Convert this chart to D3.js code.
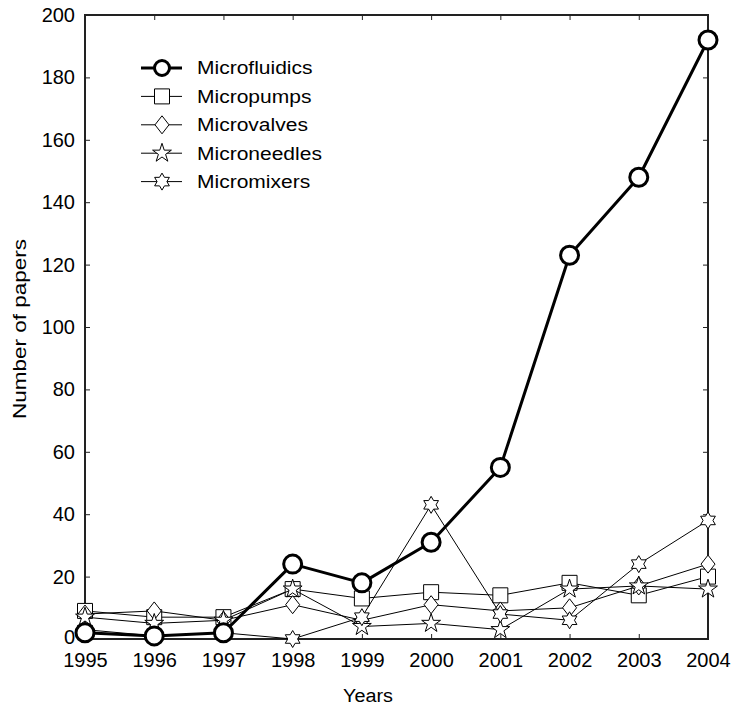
<!DOCTYPE html>
<html>
<head>
<meta charset="utf-8">
<script src="https://cdn.jsdelivr.net/npm/d3@7"></script>
<style>
  html, body { margin: 0; padding: 0; background: #fff; }
  svg text { font-family: "Liberation Sans", Arial, sans-serif; fill: #000; }
</style>
</head>
<body>
<svg id="chart" width="731" height="709"></svg>
<script>
// Publication counts per year
const years = [1995, 1996, 1997, 1998, 1999, 2000, 2001, 2002, 2003, 2004];
const microfluidics = [2, 1, 2, 24, 18, 31, 55, 123, 148, 192];
const micropumps    = [9, 7, 7, 16, 13, 15, 14, 18, 14, 20];
const microvalves   = [8, 9, 6, 11, 6, 11, 9, 10, 17, 24];
const microneedles  = [7, 5, 6, 16, 4, 5, 3, 16, 17, 16];
const micromixers   = [3, 1, 2, 0, 7, 43, 8, 6, 24, 38];
const yTicks = [0, 20, 40, 60, 80, 100, 120, 140, 160, 180, 200];

const svg = d3.select("#chart");
const L = 85, R = 708, T = 15, B = 639;

const x = d3.scaleLinear().domain([1995, 2004]).range([L, R]);
const y = d3.scaleLinear().domain([0, 200]).range([B, T]);

// Widen a text element along its baseline by a given factor
function widen(sel, k) {
  sel.each(function () {
    const w = this.getComputedTextLength();
    d3.select(this).attr("textLength", (w * k).toFixed(1)).attr("lengthAdjust", "spacingAndGlyphs");
  });
}

// Six-pointed star outline (hexagram) for the mixer series
function hexagram(r) {
  const ri = r * 0.58, pts = [];
  for (let i = 0; i < 12; i++) {
    const a = -Math.PI / 2 + i * Math.PI / 6;
    const rr = i % 2 === 0 ? r : ri;
    pts.push([rr * Math.cos(a), rr * Math.sin(a)]);
  }
  return "M" + pts.map(p => p[0].toFixed(2) + "," + p[1].toFixed(2)).join("L") + "Z";
}

const series = [
  { name: "Micropumps",    values: micropumps,    width: 1,
    marker: d3.symbol().type(d3.symbolSquare).size(225)() },
  { name: "Microvalves",   values: microvalves,   width: 1,
    marker: "M0,-9L7,0L0,9L-7,0Z" },
  { name: "Microneedles",  values: microneedles,  width: 1,
    marker: d3.symbol().type(d3.symbolStar).size(110)() },
  { name: "Micromixers",   values: micromixers,   width: 1,
    marker: hexagram(8.5) },
  { name: "Microfluidics", values: microfluidics, width: 3, circle: true }
];

// Frame and ticks
const g = svg.append("g");
g.append("rect").attr("x", L).attr("y", T).attr("width", R - L).attr("height", B - T)
  .attr("fill", "none").attr("stroke", "#222").attr("stroke-width", 2);

const yAxis = d3.axisLeft(y).tickValues(yTicks).tickSize(-5).tickPadding(10).tickFormat(d3.format("d"));
const xAxis = d3.axisBottom(x).tickValues(years).tickSize(-5).tickPadding(12).tickFormat(d3.format("d"));

const ya = g.append("g").attr("transform", `translate(${L},0)`).call(yAxis);
const xa = g.append("g").attr("transform", `translate(0,${B})`).call(xAxis);
g.append("g").attr("transform", `translate(0,${T})`)
  .call(d3.axisTop(x).tickValues(years).tickSize(-5).tickFormat(""));
g.append("g").attr("transform", `translate(${R},0)`)
  .call(d3.axisRight(y).tickValues(yTicks).tickSize(-5).tickFormat(""));

g.selectAll(".domain").remove();
g.selectAll(".tick line").attr("stroke", "#222").attr("stroke-width", 1);
ya.selectAll("text").style("font-size", "20px");
xa.selectAll("text").style("font-size", "20px").attr("dy", "0.8em");
ya.selectAll(".tick").filter(d => d === 0).select("text").attr("dy", "0.2em");

// Axis titles
svg.append("text").attr("x", 368).attr("y", 702).attr("text-anchor", "middle")
  .style("font-size", "18px").text("Years").call(widen, 1.1);
svg.append("text").attr("transform", `translate(26,${(T + B) / 2 + 2}) rotate(-90)`)
  .attr("text-anchor", "middle").style("font-size", "18px").text("Number of papers")
  .call(widen, 1.25);

// Series lines and markers
const line = d3.line().x((d, i) => x(years[i])).y(d => y(d));
const plot = svg.append("g");
series.forEach(s => {
  const sg = plot.append("g");
  sg.append("path").datum(s.values).attr("d", line)
    .attr("fill", "none").attr("stroke", "#000").attr("stroke-width", s.width)
    .attr("stroke-linejoin", "round");
  if (s.circle) {
    sg.selectAll("circle").data(s.values).join("circle")
      .attr("cx", (d, i) => x(years[i])).attr("cy", d => y(d)).attr("r", 9)
      .attr("fill", "#fff").attr("stroke", "#000").attr("stroke-width", 3);
  } else {
    sg.selectAll("path.m").data(s.values).join("path").attr("class", "m")
      .attr("d", s.marker)
      .attr("transform", (d, i) => `translate(${x(years[i])},${y(d)})`)
      .attr("fill", "#fff").attr("stroke", "#000").attr("stroke-width", 1);
  }
});

// Legend
const legendOrder = ["Microfluidics", "Micropumps", "Microvalves", "Microneedles", "Micromixers"];
const leg = svg.append("g");
legendOrder.forEach((name, i) => {
  const s = series.find(d => d.name === name);
  const cy = 68 + i * 28.4;
  const row = leg.append("g").attr("transform", `translate(0,${cy})`);
  row.append("line").attr("x1", 141).attr("x2", 182).attr("y1", 0).attr("y2", 0)
    .attr("stroke", "#000").attr("stroke-width", s.width);
  if (s.circle) {
    row.append("circle").attr("cx", 162).attr("cy", 0).attr("r", 7.5)
      .attr("fill", "#fff").attr("stroke", "#000").attr("stroke-width", 3);
  } else {
    row.append("path").attr("d", s.marker).attr("transform", "translate(162,0)")
      .attr("fill", "#fff").attr("stroke", "#000").attr("stroke-width", 1);
  }
  row.append("text").attr("x", 197).attr("y", 0).attr("dy", "0.36em")
    .style("font-size", "17.5px").text(name).call(widen, 1.2);
});
</script>
</body>
</html>
